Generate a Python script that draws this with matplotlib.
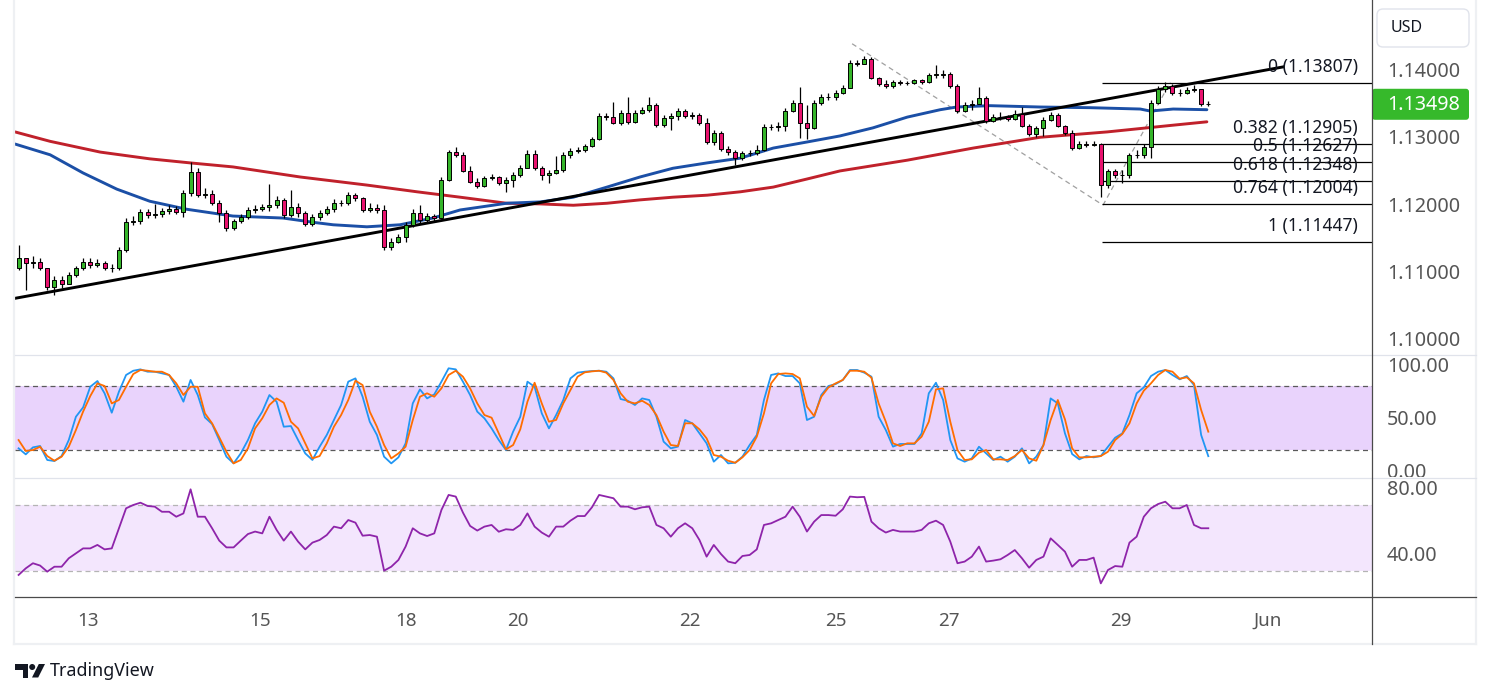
import matplotlib
matplotlib.use("Agg")
import matplotlib.pyplot as plt
from matplotlib.patches import FancyBboxPatch, Polygon, Circle

plt.rcParams['font.family'] = ['Noto Sans', 'DejaVu Sans']

# ---- EURUSD-like 2h candles ----
first_open = 1.1106
closes = [
    1.1121, 1.1113, 1.1115, 1.1106, 1.1078, 1.1088, 1.1082, 1.1095, 1.1106, 1.1115,
    1.1110, 1.1113, 1.1106, 1.1106, 1.1133, 1.1174, 1.1176, 1.1189, 1.1185, 1.1186,
    1.1190, 1.1193, 1.1189, 1.1217, 1.1248, 1.1214, 1.1216, 1.1202, 1.1188, 1.1165,
    1.1176, 1.1182, 1.1192, 1.1193, 1.1196, 1.1199, 1.1207, 1.1185, 1.1196, 1.1188,
    1.1171, 1.1182, 1.1188, 1.1193, 1.1202, 1.1202, 1.1214, 1.1210, 1.1192, 1.1195,
    1.1192, 1.1137, 1.1144, 1.1152, 1.1170, 1.1188, 1.1177, 1.1183, 1.1180, 1.1237,
    1.1278, 1.1274, 1.1250, 1.1234, 1.1228, 1.1240, 1.1241, 1.1232, 1.1237, 1.1244,
    1.1254, 1.1275, 1.1254, 1.1244, 1.1247, 1.1251, 1.1274, 1.1280, 1.1281, 1.1287,
    1.1297, 1.1332, 1.1330, 1.1321, 1.1336, 1.1323, 1.1336, 1.1341, 1.1348, 1.1318,
    1.1329, 1.1332, 1.1339, 1.1332, 1.1333, 1.1321, 1.1293, 1.1306, 1.1283, 1.1278,
    1.1269, 1.1277, 1.1277, 1.1281, 1.1315, 1.1315, 1.1317, 1.1339, 1.1351, 1.1321,
    1.1314, 1.1351, 1.1360, 1.1360, 1.1366, 1.1373, 1.1410, 1.1409, 1.1416, 1.1388,
    1.1379, 1.1376, 1.1382, 1.1381, 1.1381, 1.1385, 1.1382, 1.1393, 1.1393, 1.1394,
    1.1376, 1.1339, 1.1348, 1.1349, 1.1358, 1.1324, 1.1330, 1.1330, 1.1327, 1.1335,
    1.1317, 1.1305, 1.1314, 1.1326, 1.1333, 1.1317, 1.1306, 1.1284, 1.1290, 1.1289,
    1.1290, 1.1229, 1.1250, 1.1244, 1.1244, 1.1274, 1.1274, 1.1286, 1.1351, 1.1372,
    1.1376, 1.1366, 1.1366, 1.1370, 1.1372, 1.1349, 1.13498,
]
highs = [
    1.1140, 1.1121, 1.1124, 1.1121, 1.1106, 1.1094, 1.1094, 1.1100, 1.1109, 1.1121,
    1.1121, 1.1119, 1.1116, 1.1112, 1.1137, 1.1180, 1.1183, 1.1193, 1.1193, 1.1201,
    1.1195, 1.1199, 1.1198, 1.1222, 1.1263, 1.1254, 1.1225, 1.1222, 1.1207, 1.1192,
    1.1179, 1.1186, 1.1196, 1.1199, 1.1201, 1.1231, 1.1213, 1.1210, 1.1222, 1.1202,
    1.1190, 1.1186, 1.1192, 1.1198, 1.1208, 1.1207, 1.1219, 1.1217, 1.1211, 1.1202,
    1.1201, 1.1199, 1.1150, 1.1156, 1.1174, 1.1193, 1.1199, 1.1188, 1.1186, 1.1241,
    1.1281, 1.1286, 1.1278, 1.1257, 1.1240, 1.1242, 1.1245, 1.1242, 1.1241, 1.1248,
    1.1259, 1.1281, 1.1281, 1.1257, 1.1251, 1.1272, 1.1278, 1.1284, 1.1286, 1.1290,
    1.1300, 1.1336, 1.1336, 1.1352, 1.1341, 1.1360, 1.1341, 1.1345, 1.1360, 1.1351,
    1.1333, 1.1336, 1.1344, 1.1342, 1.1338, 1.1336, 1.1329, 1.1311, 1.1309, 1.1287,
    1.1281, 1.1280, 1.1281, 1.1289, 1.1320, 1.1320, 1.1323, 1.1344, 1.1355, 1.1375,
    1.1348, 1.1355, 1.1364, 1.1366, 1.1370, 1.1378, 1.1415, 1.1415, 1.1421, 1.1419,
    1.1390, 1.1385, 1.1385, 1.1385, 1.1384, 1.1387, 1.1387, 1.1396, 1.1407, 1.1400,
    1.1397, 1.1379, 1.1352, 1.1355, 1.1375, 1.1361, 1.1335, 1.1338, 1.1333, 1.1341,
    1.1345, 1.1320, 1.1317, 1.1330, 1.1338, 1.1336, 1.1318, 1.1311, 1.1294, 1.1294,
    1.1294, 1.1292, 1.1253, 1.1253, 1.1251, 1.1277, 1.1281, 1.1290, 1.1355, 1.1376,
    1.1382, 1.1379, 1.1372, 1.1375, 1.1378, 1.1372, 1.1354,
]
lows = [
    1.1103, 1.1073, 1.1106, 1.1103, 1.1073, 1.1066, 1.1076, 1.1082, 1.1092, 1.1103,
    1.1106, 1.1107, 1.1103, 1.1100, 1.1103, 1.1130, 1.1170, 1.1171, 1.1180, 1.1180,
    1.1182, 1.1186, 1.1186, 1.1182, 1.1213, 1.1211, 1.1210, 1.1199, 1.1174, 1.1161,
    1.1162, 1.1173, 1.1179, 1.1188, 1.1190, 1.1190, 1.1195, 1.1180, 1.1182, 1.1182,
    1.1168, 1.1168, 1.1177, 1.1185, 1.1189, 1.1198, 1.1199, 1.1205, 1.1189, 1.1189,
    1.1188, 1.1133, 1.1133, 1.1143, 1.1144, 1.1167, 1.1171, 1.1173, 1.1176, 1.1180,
    1.1235, 1.1271, 1.1248, 1.1232, 1.1225, 1.1226, 1.1237, 1.1229, 1.1219, 1.1226,
    1.1241, 1.1254, 1.1251, 1.1237, 1.1232, 1.1245, 1.1248, 1.1269, 1.1277, 1.1278,
    1.1286, 1.1296, 1.1326, 1.1320, 1.1318, 1.1320, 1.1321, 1.1335, 1.1338, 1.1315,
    1.1315, 1.1311, 1.1326, 1.1329, 1.1327, 1.1318, 1.1290, 1.1289, 1.1280, 1.1274,
    1.1259, 1.1266, 1.1272, 1.1274, 1.1280, 1.1311, 1.1309, 1.1309, 1.1338, 1.1299,
    1.1297, 1.1312, 1.1348, 1.1355, 1.1355, 1.1364, 1.1379, 1.1406, 1.1409, 1.1387,
    1.1376, 1.1373, 1.1373, 1.1378, 1.1378, 1.1379, 1.1379, 1.1381, 1.1388, 1.1388,
    1.1373, 1.1336, 1.1338, 1.1341, 1.1355, 1.1321, 1.1323, 1.1326, 1.1324, 1.1326,
    1.1315, 1.1302, 1.1300, 1.1302, 1.1324, 1.1315, 1.1303, 1.1281, 1.1283, 1.1286,
    1.1287, 1.1211, 1.1225, 1.1240, 1.1232, 1.1240, 1.1269, 1.1269, 1.1269, 1.1349,
    1.1367, 1.1363, 1.1361, 1.1364, 1.1367, 1.1347, 1.1347,
]

# moving averages (bar index, price)
blue_x = [0, 4.9, 9.5, 14.2, 18.8, 24.0, 30.4, 37.4, 42.1, 44.4, 49.1, 53.7, 58.3, 62.1,
          68.6, 73.3, 77.9, 82.6, 87.2, 91.8, 96.6, 101.2, 105.8, 110.5, 115.1, 119.7,
          124.5, 129.1, 131.4, 136.0, 143.0, 150.0, 157.0, 158.4, 161.6, 166.3]
blue_p = [1.1290, 1.1274, 1.1247, 1.1223, 1.1205, 1.1193, 1.1183, 1.1180, 1.1173, 1.1170,
          1.1167, 1.1170, 1.1180, 1.1192, 1.1202, 1.1204, 1.1211, 1.1226, 1.1241, 1.1254,
          1.1262, 1.1269, 1.1284, 1.1293, 1.1302, 1.1314, 1.1330, 1.1341, 1.1345, 1.1347,
          1.1345, 1.1344, 1.1342, 1.1339, 1.1342, 1.1341]
red_x = [0, 4.9, 11.9, 18.8, 24.4, 30.4, 39.8, 49.1, 56.1, 62.1, 68.6, 73.3, 77.9, 82.6,
         87.2, 91.8, 96.6, 101.2, 105.8, 110.5, 115.1, 124.5, 133.7, 143.0, 152.4, 161.6, 166.3]
red_p = [1.1308, 1.1294, 1.1278, 1.1268, 1.1262, 1.1256, 1.1241, 1.1229, 1.1219, 1.1211,
         1.1202, 1.1201, 1.1199, 1.1202, 1.1207, 1.1211, 1.1214, 1.1219, 1.1226, 1.1238,
         1.1250, 1.1266, 1.1284, 1.1300, 1.1308, 1.1318, 1.1323]

# drawings
trend_x = [0.14, 176.9]
trend_p = [1.1061, 1.14045]
fib_levels = ['0', '0.382', '0.5', '0.618', '0.764', '1']
fib_prices = [1.13807, 1.12905, 1.12627, 1.12348, 1.12004, 1.11447]
fib_start = 151.7
diag1_x, diag1_p = [116.8, 151.4], [1.1439, 1.1202]
diag2_x, diag2_p = [151.8, 161.2], [1.1199, 1.1382]

# stochastic %K / %D
stoch_k = [
    21.4, 15.7, 22.3, 23.6, 10.4, 9.4, 14.1, 29.2, 51.2, 60.0,
    79.5, 84.9, 73.3, 55.0, 74.8, 90.6, 94.6, 95.9, 93.7, 93.7,
    92.1, 90.6, 79.5, 65.4, 85.9, 71.7, 50.6, 44.3, 29.2, 13.5,
    7.2, 16.6, 29.2, 45.0, 56.0, 71.7, 65.4, 41.8, 42.4, 29.2,
    16.6, 10.4, 22.9, 34.0, 48.1, 62.3, 84.3, 87.4, 70.1, 46.5,
    34.0, 13.5, 7.2, 12.9, 26.1, 63.8, 77.0, 68.5, 72.3, 84.3,
    96.9, 95.9, 84.3, 71.7, 56.0, 49.7, 40.2, 29.2, 19.8, 37.1,
    51.2, 84.3, 79.5, 54.4, 40.2, 52.8, 67.0, 87.4, 92.8, 93.7,
    94.3, 94.6, 93.7, 87.4, 67.9, 66.3, 62.3, 68.5, 67.0, 51.2,
    27.7, 21.4, 23.0, 48.1, 45.0, 35.5, 26.1, 8.8, 15.1, 7.2,
    7.8, 13.5, 24.5, 34.0, 67.0, 90.6, 92.1, 89.6, 89.6, 82.7,
    48.1, 51.2, 71.7, 80.2, 82.0, 85.9, 95.3, 95.3, 92.8, 89.0,
    51.2, 38.7, 23.0, 25.5, 25.5, 25.5, 35.5, 73.3, 83.3, 67.0,
    29.2, 11.9, 8.8, 11.9, 22.9, 16.6, 10.4, 13.5, 8.8, 13.5,
    21.4, 7.2, 13.5, 24.5, 68.5, 63.8, 35.5, 16.0, 11.0, 14.1,
    12.9, 14.1, 22.9, 31.4, 35.5, 52.8, 73.3, 78.9, 89.6, 93.7,
    95.3, 90.6, 86.5, 89.6, 81.1, 34.0, 14.0,
]
stoch_d = [
    29.2, 18.9, 19.8, 22.9, 14.1, 9.7, 13.5, 22.9, 38.7, 56.0,
    70.7, 82.7, 80.2, 63.8, 67.0, 79.5, 91.5, 95.3, 94.6, 93.7,
    93.7, 90.6, 82.7, 71.7, 79.5, 79.5, 54.4, 45.0, 31.8, 18.2,
    7.2, 10.4, 21.4, 40.2, 49.7, 62.3, 68.5, 64.4, 46.5, 40.2,
    26.1, 11.9, 14.1, 26.1, 41.8, 52.8, 67.0, 85.2, 81.1, 56.0,
    41.8, 24.5, 11.9, 16.6, 22.9, 48.1, 70.1, 73.3, 70.1, 78.0,
    90.6, 94.6, 89.0, 78.0, 63.8, 52.8, 50.3, 35.5, 20.4, 24.5,
    39.3, 65.4, 83.3, 63.8, 46.5, 48.1, 63.8, 76.4, 89.0, 93.1,
    94.0, 94.6, 92.8, 85.9, 73.3, 65.4, 63.8, 66.3, 62.3, 52.8,
    37.1, 24.5, 23.6, 45.0, 45.0, 39.3, 30.8, 15.1, 13.5, 9.7,
    7.8, 12.9, 19.8, 32.4, 54.4, 82.7, 91.5, 92.1, 91.5, 87.4,
    60.7, 51.9, 70.1, 78.9, 82.7, 85.9, 94.6, 94.6, 93.7, 88.0,
    63.8, 46.5, 26.1, 23.6, 26.1, 26.1, 32.4, 46.5, 77.0, 78.0,
    46.5, 19.8, 10.4, 11.0, 17.3, 19.8, 11.0, 11.0, 10.4, 14.1,
    19.8, 11.9, 9.7, 24.5, 48.1, 67.0, 48.7, 21.4, 12.9, 12.9,
    13.5, 14.1, 18.2, 29.2, 34.9, 45.0, 63.8, 75.8, 82.7, 90.6,
    95.3, 93.7, 87.1, 88.4, 82.7, 57.6, 37.1,
]

# RSI
rsi = [
    27.3, 31.3, 34.4, 33.0, 29.3, 32.3, 32.3, 37.4, 40.4, 43.4,
    43.4, 45.5, 42.8, 43.4, 55.6, 67.7, 69.7, 71.1, 69.1, 68.7,
    65.6, 65.6, 62.6, 64.6, 79.2, 62.6, 62.6, 55.6, 48.1, 44.0,
    44.0, 48.1, 52.1, 53.6, 52.5, 62.6, 54.6, 48.1, 53.6, 47.5,
    42.8, 46.9, 48.5, 51.5, 56.6, 55.6, 60.6, 59.0, 51.1, 51.5,
    50.5, 29.9, 32.3, 36.4, 44.5, 55.6, 52.5, 50.9, 52.5, 66.7,
    75.8, 74.8, 65.1, 57.0, 54.2, 56.6, 57.6, 53.5, 55.0, 54.6,
    57.6, 64.6, 56.6, 53.0, 50.5, 56.6, 56.6, 60.2, 63.0, 63.0,
    68.3, 75.8, 74.8, 73.8, 68.7, 68.7, 67.1, 68.3, 68.7, 57.6,
    55.6, 50.5, 55.6, 58.6, 55.6, 48.5, 38.4, 45.5, 40.0, 35.4,
    34.4, 38.8, 39.4, 42.8, 57.6, 58.6, 60.6, 62.6, 68.7, 62.6,
    53.6, 59.6, 63.6, 63.6, 63.2, 67.1, 74.8, 74.4, 74.6, 59.6,
    55.6, 53.0, 54.6, 53.6, 53.6, 53.6, 54.6, 58.6, 60.2, 57.6,
    47.5, 34.4, 35.4, 38.4, 44.5, 35.4, 36.0, 36.8, 39.4, 42.4,
    37.4, 31.7, 36.4, 38.4, 49.5, 45.5, 41.4, 32.3, 36.4, 36.4,
    37.8, 22.2, 30.3, 32.7, 32.3, 46.9, 50.5, 62.6, 67.7, 70.3,
    71.7, 67.7, 67.7, 69.7, 57.6, 55.6, 55.6,
]

price_ticks = [1.14, 1.13, 1.12, 1.11, 1.10]
stoch_ticks = [100, 50, 0]
rsi_ticks = [80, 40]
day_labels = ['13', '15', '18', '20', '22', '25', '27', '29', 'Jun']
day_pos = [10.2, 34.2, 54.6, 70.2, 94.2, 114.6, 130.3, 154.3, 174.8]

# ---- figure / layout in pixels ----
W, H = 1491, 698
fig = plt.figure(figsize=(W / 100, H / 100), dpi=100)


def box(x0, y0, x1, y1):
    return [x0 / W, 1 - y1 / H, (x1 - x0) / W, (y1 - y0) / H]


XL, XR, XS = 15, 1372, 1476
XMAX = (XR - XL) / 7.167
UP, DOWN = '#35b52a', '#e8126e'
TXT = '#555555'

ax = fig.add_axes(box(XL, 0, XR, 354))
ax_st = fig.add_axes(box(XL, 354, XR, 477))
ax_rsi = fig.add_axes(box(XL, 477, XR, 597))
ax_t = fig.add_axes(box(XL, 597, XR, 644))
sc = fig.add_axes(box(XR, 0, XS, 354))
sc_st = fig.add_axes(box(XR, 354, XS, 477))
sc_rsi = fig.add_axes(box(XR, 477, XS, 597))
for a in (ax, ax_st, ax_rsi, ax_t):
    a.set_xlim(0, XMAX)
for a in (ax, ax_st, ax_rsi, ax_t, sc, sc_st, sc_rsi):
    a.axis('off')

P_LO, P_HI = 1.09780, 1.15040
ax.set_ylim(P_LO, P_HI)
sc.set_ylim(P_LO, P_HI)

# price panel
n = len(closes)
xs = [i + 0.5 for i in range(n)]
opens = [first_open] + closes[:-1]
body_lo = [min(o, c) for o, c in zip(opens, closes)]
body_h = [max(abs(c - o), 0.00004) for o, c in zip(opens, closes)]
cols = [UP if c >= o else DOWN for o, c in zip(opens, closes)]
hi = [max(h, o, c) for h, o, c in zip(highs, opens, closes)]
lo = [min(l, o, c) for l, o, c in zip(lows, opens, closes)]

ax.plot(red_x, red_p, color='#c0212b', lw=2.1, zorder=2, solid_capstyle='round')
ax.plot(blue_x, blue_p, color='#1b4fa6', lw=2.1, zorder=2, solid_capstyle='round')
ax.plot(trend_x, trend_p, color='black', lw=2.1, zorder=3)
ax.plot(diag1_x, diag1_p, color='#a0a0a0', lw=0.9, ls=(0, (4, 3)), zorder=1)
ax.plot(diag2_x, diag2_p, color='#a0a0a0', lw=0.9, ls=(0, (4, 3)), zorder=1)
ax.hlines(fib_prices, fib_start, XMAX, colors='black', lw=0.9, zorder=2)
for lv, p in zip(fib_levels, fib_prices):
    ax.annotate(f"{lv} ({p:.5f})", (187.4, p), xytext=(0, 8), textcoords='offset points',
                ha='right', va='baseline', fontsize=12.6, color='#131722', zorder=6)
ax.vlines(xs, lo, hi, color='black', lw=0.9, zorder=4)
ax.bar(xs, body_h, bottom=body_lo, width=0.55, color=cols, edgecolor='black',
       linewidth=0.7, zorder=5)

# stochastic panel
ax_st.set_ylim(-5.66, 110.4)
sc_st.set_ylim(-5.66, 110.4)
ax_st.axhspan(20, 80, color='#e9d3fc', lw=0, zorder=0)
for lv in (80, 20):
    ax_st.axhline(lv, color='#5a5a5a', lw=0.9, ls=(0, (4, 3)), zorder=1)
ax_st.plot(xs, stoch_k, color='#2196f3', lw=1.3, zorder=3)
ax_st.plot(xs, stoch_d, color='#ff6d00', lw=1.3, zorder=4)

# RSI panel
ax_rsi.set_ylim(13.94, 86.67)
sc_rsi.set_ylim(13.94, 86.67)
ax_rsi.axhspan(30, 70, color='#f3e6fd', lw=0, zorder=0)
for lv in (70, 30):
    ax_rsi.axhline(lv, color='#b4b4b4', lw=0.9, ls=(0, (4, 3)), zorder=1)
ax_rsi.plot(xs, rsi, color='#8e24aa', lw=1.3, zorder=3)


def scale_label(axis, v, text):
    axis.annotate(text, (0.144, v), xycoords=axis.get_yaxis_transform(),
                  xytext=(0, -1.5), textcoords='offset points', ha='left', va='center',
                  fontsize=14.2, color=TXT, clip_on=True, annotation_clip=False)


for v in price_ticks:
    scale_label(sc, v, f"{v:.5f}")
for v in stoch_ticks:
    scale_label(sc_st, v, f"{v:.2f}")
for v in rsi_ticks:
    scale_label(sc_rsi, v, f"{v:.2f}")

# time axis
ax_t.set_ylim(0, 1)
for pos, lab in zip(day_pos, day_labels):
    ax_t.text(pos, 0.5, lab, ha='center', va='center', fontsize=13.5, color=TXT)

# overlay in pixel coordinates: frame, separators, badge, logo
ov = fig.add_axes([0, 0, 1, 1])
ov.set_xlim(0, W)
ov.set_ylim(H, 0)
ov.axis('off')
ov.plot([XL - 1, XL - 1], [0, 644], color='#eef0f3', lw=1.6)
ov.plot([XS, XS], [0, 644], color='#eef0f3', lw=1.6)
ov.plot([XL - 1, XS], [644, 644], color='#eef0f3', lw=1.6)
for yy in (354.5, 477.5):
    ov.plot([XL, XS], [yy, yy], color='#e0e3eb', lw=0.9)
ov.plot([XL, XS], [597, 597], color='#4a4a4a', lw=0.9)
ov.plot([XR, XR], [0, 644], color='#4a4a4a', lw=0.9)

ov.add_patch(FancyBboxPatch((1377, 9), 92, 38, boxstyle='round,pad=0,rounding_size=6',
                            fc='white', ec='#e0e3eb', lw=1))
ov.text(1391, 28, 'USD', ha='left', va='center', fontsize=11.5, color='#131722')

last = closes[-1]
y_last = H - ax.transData.transform((0, last))[1]
ov.add_patch(FancyBboxPatch((XR, y_last - 15), 97, 31, boxstyle='round,pad=0,rounding_size=3',
                            fc='#36b92b', ec='none'))
ov.text(1387, y_last + 1.5, f"{last:.5f}", ha='left', va='center', fontsize=14.2, color='white')

# TradingView logo
ov.add_patch(Polygon([(15, 664), (28.3, 664), (28.3, 677.5), (22.7, 677.5), (22.7, 669.5),
                      (15, 669.5)], closed=True, fc='#131722', ec='none'))
ov.add_patch(Circle((32.2, 667), 3.0, fc='#131722', ec='none'))
ov.add_patch(Polygon([(38.8, 664), (45, 664), (38.2, 677.5), (32, 677.5)], closed=True,
                     fc='#131722', ec='none'))
ov.text(50, 671, 'TradingView', ha='left', va='center', fontsize=12.9, color='#131722')

fig.savefig('out.png', dpi=100)
